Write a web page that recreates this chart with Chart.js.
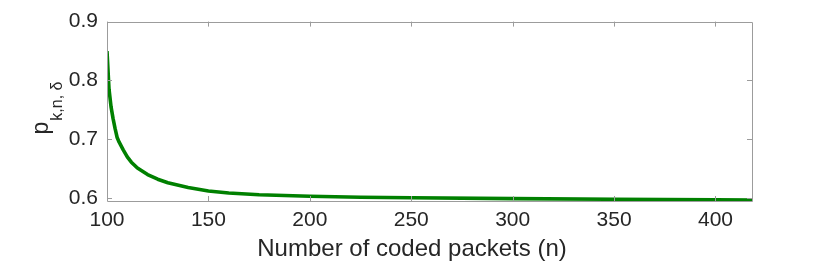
<!DOCTYPE html>
<html>
<head>
<meta charset="utf-8">
<script src="https://cdn.jsdelivr.net/npm/chart.js@4/dist/chart.umd.min.js"></script>
<style>
  html, body { margin: 0; padding: 0; background: #fff; }
  #wrap { width: 830px; height: 261px; position: relative; }
</style>
</head>
<body>
<div id="wrap"><canvas id="c" width="830" height="261"></canvas></div>
<script>
// ---- data ----
const nValues = [100, 101, 102, 103, 104, 105, 106, 108, 110, 112, 115, 120, 125, 130, 140, 150, 160, 175, 200, 225, 250, 300, 350, 400, 418];
const pValues = [0.850, 0.785, 0.755, 0.735, 0.718, 0.703, 0.695, 0.682, 0.670, 0.661, 0.651, 0.640, 0.632, 0.626, 0.618, 0.612, 0.6085, 0.6055, 0.603, 0.6015, 0.6005, 0.599, 0.598, 0.597, 0.5965];
const xTicks = [100, 150, 200, 250, 300, 350, 400];
const yTicks = [0.6, 0.7, 0.8, 0.9];
const xTitle = 'Number of coded packets (n)';
const yTitleMain = 'p';
const yTitleSub = 'k,n, δ';

const FONT = '"Liberation Sans", Arial, sans-serif';
const TEXT = '#262626';
const BOX = '#9c9c9c';

const boxPlugin = {
  id: 'boxTicks',
  afterDraw(chart) {
    const ctx = chart.ctx, a = chart.chartArea;
    const xs = chart.scales.x, ys = chart.scales.y;
    ctx.save();
    ctx.strokeStyle = BOX;
    ctx.lineWidth = 1;
    ctx.beginPath();
    ctx.rect(Math.round(a.left) + 0.5, Math.round(a.top) + 0.5, Math.round(a.right - a.left), Math.round(a.bottom - a.top));
    ctx.stroke();
    const L = 5;
    ctx.beginPath();
    xTicks.forEach(v => {
      const px = Math.round(xs.getPixelForValue(v)) + 0.5;
      ctx.moveTo(px, a.bottom); ctx.lineTo(px, a.bottom - L);
      ctx.moveTo(px, a.top); ctx.lineTo(px, a.top + L);
    });
    yTicks.forEach(v => {
      const py = Math.round(ys.getPixelForValue(v)) + 0.5;
      ctx.moveTo(a.left, py); ctx.lineTo(a.left + L, py);
      ctx.moveTo(a.right, py); ctx.lineTo(a.right - L, py);
    });
    ctx.stroke();
    ctx.fillStyle = TEXT;
    // x-axis title
    ctx.font = '24px ' + FONT;
    ctx.textAlign = 'center';
    ctx.textBaseline = 'alphabetic';
    ctx.fillText(xTitle, 412, 256);
    // y-axis title with subscript
    ctx.textAlign = 'left';
    const cy = 108;
    ctx.translate(48, cy);
    ctx.rotate(-Math.PI / 2);
    ctx.font = '23px ' + FONT;
    const w1 = ctx.measureText(yTitleMain).width;
    ctx.font = '16px ' + FONT;
    const w2 = ctx.measureText(yTitleSub).width;
    const total = w1 + 1 + w2;
    const x0 = -total / 2;
    ctx.font = '23px ' + FONT;
    ctx.fillText(yTitleMain, x0, 0);
    ctx.font = '16px ' + FONT;
    ctx.fillText(yTitleSub, x0 + w1 + 1, 14);
    ctx.restore();
  }
};

new Chart(document.getElementById('c'), {
  type: 'line',
  data: {
    datasets: [{
      data: nValues.map((n, i) => ({ x: n, y: pValues[i] })),
      borderColor: '#008000',
      borderWidth: 3.6,
      pointRadius: 0,
      tension: 0,
      fill: false,
      borderJoinStyle: 'round',
      borderCapStyle: 'butt'
    }]
  },
  options: {
    responsive: false,
    animation: false,
    devicePixelRatio: 1,
    layout: { padding: { top: 19, right: 78, bottom: 0, left: 0 } },
    plugins: { legend: { display: false }, tooltip: { enabled: false } },
    scales: {
      x: {
        type: 'linear',
        min: 100, max: 418,
        border: { display: false },
        grid: { display: false, drawTicks: false },
        afterBuildTicks: s => { s.ticks = xTicks.map(v => ({ value: v })); },
        ticks: {
          includeBounds: false,
          color: TEXT, padding: 7, maxRotation: 0,
          font: { family: FONT, size: 21 },
          callback: v => String(v)
        },
        title: { display: false },
        afterFit: s => { s.height = 60; }
      },
      y: {
        min: 0.595, max: 0.9,
        border: { display: false },
        grid: { display: false, drawTicks: false },
        afterBuildTicks: s => { s.ticks = yTicks.map(v => ({ value: v })); },
        ticks: {
          includeBounds: false,
          color: TEXT, padding: 9,
          font: { family: FONT, size: 21 },
          callback: v => Number(v).toFixed(1)
        },
        afterFit: s => { s.width = 107; }
      }
    }
  },
  plugins: [boxPlugin]
});
</script>
</body>
</html>
